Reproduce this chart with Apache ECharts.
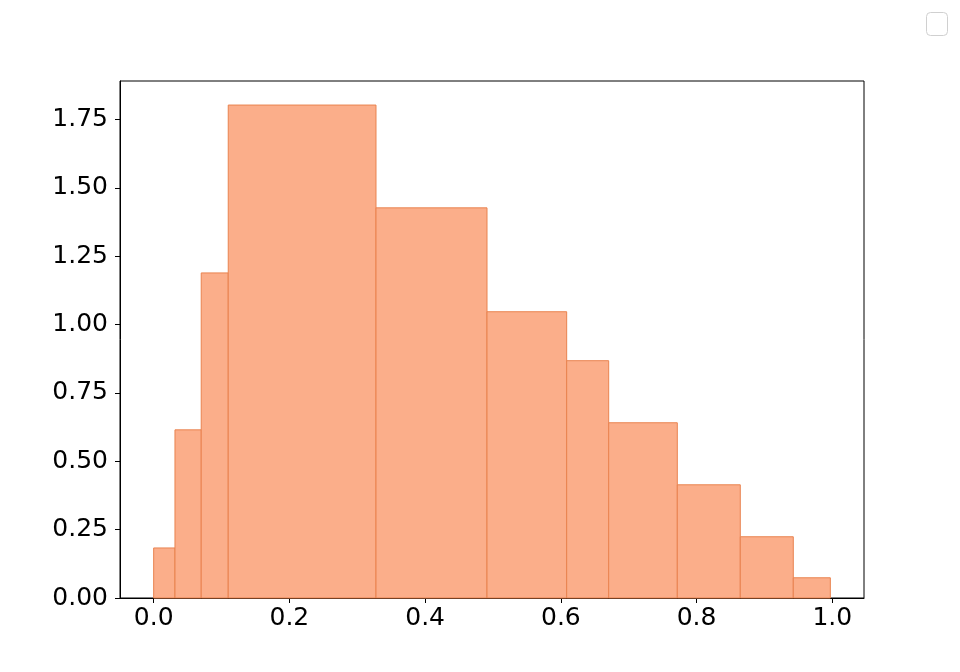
<!DOCTYPE html>
<html>
<head>
<meta charset="utf-8">
<script src="https://cdn.jsdelivr.net/npm/echarts@6/dist/echarts.min.js"></script>
<style>html,body{margin:0;padding:0;background:#fff}#c{width:960px;height:672px}</style>
</head>
<body>
<div id="c"></div>
<script>
// Bin edges (left edge of each bin, plus final right edge)
const binEdges = [0.0, 0.0314, 0.0701, 0.1099, 0.3276, 0.4912, 0.6086, 0.6705, 0.7716, 0.8644, 0.9425, 0.9971];
// Density heights of each bin
const binHeights = [0.183, 0.615, 1.189, 1.803, 1.427, 1.047, 0.868, 0.641, 0.414, 0.224, 0.074];
const xTicks = [0.0, 0.2, 0.4, 0.6, 0.8, 1.0];
const yTicks = [0.0, 0.25, 0.5, 0.75, 1.0, 1.25, 1.5, 1.75];

const data = binHeights.map((h, i) => [binEdges[i], binEdges[i + 1], h]);

const chart = echarts.init(document.getElementById('c'), null, {renderer: 'canvas'});
const font = 'DejaVu Sans';
chart.setOption({
  animation: false,
  backgroundColor: '#fff',
  grid: {left: 120, right: 96, top: 81, bottom: 74, show: true, borderColor: '#000', borderWidth: 1, backgroundColor: 'transparent'},
  xAxis: {
    type: 'value', min: -0.0496, max: 1.0467,
    splitLine: {show: false},
    axisLine: {show: true, onZero: false, lineStyle: {color: '#000', width: 1}},
    axisTick: {show: true, length: 5, lineStyle: {color: '#000'}, customValues: xTicks},
    axisLabel: {color: '#000', fontFamily: font, fontSize: 25, margin: 8, customValues: xTicks, formatter: v => v.toFixed(1)}
  },
  yAxis: {
    type: 'value', min: 0, max: 1.891,
    splitLine: {show: false},
    axisLine: {show: true, onZero: false, lineStyle: {color: '#000', width: 1}},
    axisTick: {show: true, length: 5, lineStyle: {color: '#000'}, customValues: yTicks},
    axisLabel: {color: '#000', fontFamily: font, fontSize: 25, margin: 12, customValues: yTicks, formatter: v => v.toFixed(2)}
  },
  graphic: [{
    type: 'rect', left: 926, top: 12,
    shape: {width: 21, height: 23, r: 4},
    style: {fill: '#fff', stroke: '#d0d0d0', lineWidth: 1}
  }],
  series: [{
    type: 'custom',
    data: data,
    encode: {x: [0, 1], y: 2},
    renderItem: function (params, api) {
      const p0 = api.coord([api.value(0), 0]);
      const p1 = api.coord([api.value(1), api.value(2)]);
      return {
        type: 'rect',
        shape: {x: p0[0], y: p1[1], width: p1[0] - p0[0], height: p0[1] - p1[1]},
        style: {fill: '#fbae8a', stroke: '#e9834f', lineWidth: 1}
      };
    }
  }]
});
</script>
</body>
</html>
